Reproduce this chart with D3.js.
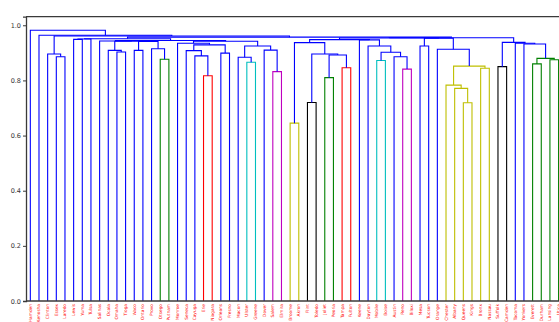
<!DOCTYPE html>
<html>
<head>
<meta charset="utf-8">
<script src="https://cdn.jsdelivr.net/npm/d3@7"></script>
<style>
  body { margin: 0; background: #fff; }
  svg { display: block; }
</style>
</head>
<body>
<script>
// Leaf labels, left to right
const leafLabels = [
  "Hamden", "Kenosha", "Clinton", "Essex", "Laredo", "Lewis", "Yuma", "Tulsa",
  "Salinas", "Ocala", "Omaha", "Tioga", "Waco", "Ontario", "Provo", "Otsego",
  "Putnam", "Monroe", "Seneca", "Cayuga", "Erie", "Niagara", "Orleans", "Fresno",
  "Macon", "Ulster", "Greene", "Dover", "Salem", "Elmira", "Broome", "Akron",
  "Flint", "Toledo", "Joliet", "Peoria", "Tampa", "Fulton", "Keene", "Dayton",
  "Mobile", "Boise", "Austin", "Reno", "Biloxi", "Mesa", "Tucson", "Orange",
  "Chester", "Albany", "Queens", "Kings", "Bronx", "Nassau", "Suffolk", "Camden",
  "Tacoma", "Yonkers", "Everett", "Durham", "Lansing", "Utica"
];

// Linkage rows: [left child, right child, merge height].
// Ids below leafLabels.length are leaves; row k creates cluster id leafLabels.length + k.
const merges = [
  [10, 11, 0.903], [9, 62, 0.909], [12, 13, 0.909], [15, 16, 0.877], [14, 65, 0.915],
  [3, 4, 0.886], [2, 67, 0.896], [20, 21, 0.817], [19, 69, 0.889], [18, 70, 0.908],
  [22, 23, 0.899], [71, 72, 0.929], [17, 73, 0.935], [25, 26, 0.866], [24, 75, 0.884],
  [28, 29, 0.832], [27, 77, 0.910], [76, 78, 0.925], [74, 79, 0.942], [30, 31, 0.645],
  [32, 33, 0.720], [34, 35, 0.810], [36, 37, 0.846], [83, 84, 0.892], [82, 85, 0.896],
  [81, 86, 0.937], [40, 41, 0.872], [43, 44, 0.841], [42, 89, 0.886], [88, 90, 0.902],
  [39, 91, 0.925], [38, 92, 0.947], [45, 46, 0.925], [50, 51, 0.719], [49, 95, 0.771],
  [48, 96, 0.783], [52, 53, 0.844], [97, 98, 0.852], [47, 99, 0.913], [94, 100, 0.953],
  [54, 55, 0.850], [58, 59, 0.860], [60, 61, 0.875], [103, 104, 0.880], [57, 105, 0.932],
  [56, 106, 0.935], [102, 107, 0.938], [64, 66, 0.941], [63, 109, 0.942], [8, 110, 0.943],
  [111, 80, 0.945], [5, 6, 0.949], [113, 7, 0.950], [114, 112, 0.951], [87, 93, 0.948],
  [116, 101, 0.954], [117, 108, 0.955], [115, 118, 0.957], [68, 119, 0.961], [1, 120, 0.964],
  [0, 121, 0.982]
];

const yTicks = [0, 0.2, 0.4, 0.6, 0.8, 1.0];
const colorThreshold = 0.882;
const clusterPalette = ["#008000", "#ff0000", "#00bfbf", "#bf00bf", "#bfbf00", "#000000"];
const aboveThresholdColor = "#0000ff";

const W = 559, H = 322;
const plot = { left: 26, top: 16.7, bottom: 301, leafStep: 8.66 };

// Build tree nodes from the linkage rows
const N = leafLabels.length;
const nodes = leafLabels.map((label, i) => ({ id: i, label, height: 0, children: null }));
merges.forEach(([a, b, h], k) => {
  const node = { id: N + k, height: h, children: [nodes[a], nodes[b]] };
  nodes.push(node);
});
const root = nodes[nodes.length - 1];

// Leaf order and coordinates in dendrogram units (leaves at 5, 15, 25, ...)
let order = 0;
(function place(n) {
  if (!n.children) { n.pos = 5 + 10 * order++; return; }
  n.children.forEach(place);
  n.pos = (n.children[0].pos + n.children[1].pos) / 2;
})(root);

// Colour clusters that sit below the threshold, in left-to-right order
let colorIdx = 0;
(function paint(n, inherited) {
  if (!n.children) return;
  let c = inherited;
  if (!c) {
    c = n.height < colorThreshold ? clusterPalette[colorIdx++ % clusterPalette.length] : null;
  }
  n.color = c || aboveThresholdColor;
  n.children.forEach(ch => paint(ch, c));
})(root, null);

const x = d3.scaleLinear()
  .domain([0, 10 * N])
  .range([plot.left, plot.left + N * plot.leafStep]);
const y = d3.scaleLinear()
  .domain([0, root.height * 1.05])
  .range([plot.bottom, plot.top]);

const svg = d3.select("body").append("svg")
  .attr("width", W).attr("height", H)
  .style("font-family", "DejaVu Sans, sans-serif");

// Dendrogram links: one bracket per merge
const merged = nodes.filter(n => n.children);
svg.append("g")
  .attr("fill", "none")
  .attr("stroke-width", 1.1)
  .selectAll("path")
  .data(merged)
  .join("path")
  .attr("stroke", d => d.color)
  .attr("d", d => {
    const [l, r] = d.children;
    return `M${x(l.pos)},${y(l.height)}V${y(d.height)}H${x(r.pos)}V${y(r.height)}`;
  });

// Axes frame
const frame = svg.append("g").attr("stroke", "#3a3a3a").attr("stroke-width", 1.3);
frame.append("line").attr("x1", plot.left).attr("x2", W).attr("y1", plot.top).attr("y2", plot.top);
frame.append("line").attr("x1", plot.left).attr("x2", W).attr("y1", plot.bottom).attr("y2", plot.bottom);

const yAxis = svg.append("g")
  .attr("transform", `translate(${plot.left},0)`)
  .call(d3.axisLeft(y).tickValues(yTicks).tickFormat(d3.format(".1f")).tickSize(3).tickPadding(2));
yAxis.select(".domain").attr("stroke", "#3a3a3a").attr("stroke-width", 1.3);
yAxis.selectAll(".tick line").attr("stroke", "#3a3a3a");
yAxis.selectAll(".tick text").attr("fill", "#333").style("font-size", "6.5px").style("font-family", "DejaVu Sans, sans-serif");

// Leaf labels, rotated, hanging below the axis
const leafNodes = nodes.slice(0, N);
svg.append("g")
  .selectAll("text")
  .data(leafNodes)
  .join("text")
  .attr("transform", d => `translate(${x(d.pos) + 1.5},${plot.bottom + 3}) rotate(-90)`)
  .attr("text-anchor", "end")
  .attr("fill", "#ff0000")
  .style("font-size", "4.3px")
  .text(d => d.label);
</script>
</body>
</html>
